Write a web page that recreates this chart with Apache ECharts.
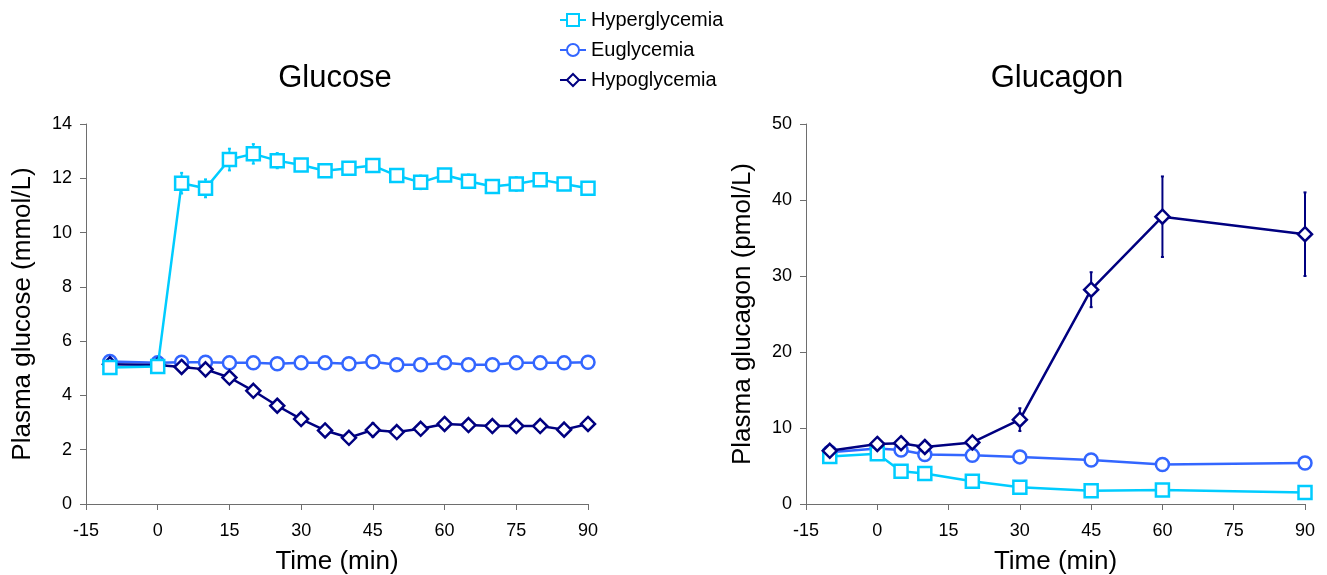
<!DOCTYPE html>
<html>
<head>
<meta charset="utf-8">
<script src="https://cdn.jsdelivr.net/npm/echarts@6/dist/echarts.min.js"></script>
<style>html,body{margin:0;padding:0;background:#fff}#c{width:1327px;height:575px}</style>
</head>
<body>
<div id="c"></div>
<script>
// ---- data ----
const seriesNames = ['Hyperglycemia', 'Euglycemia', 'Hypoglycemia'];
const glucoseTime = [-10, 0, 5, 10, 15, 20, 25, 30, 35, 40, 45, 50, 55, 60, 65, 70, 75, 80, 85, 90];
const hyperGlucose = [5.03, 5.07, 11.82, 11.63, 12.69, 12.9, 12.65, 12.49, 12.28, 12.37, 12.47, 12.1, 11.85, 12.12, 11.89, 11.7, 11.79, 11.95, 11.79, 11.63];
const hyperGlucoseErr = [0.1, 0.1, 0.38, 0.33, 0.4, 0.36, 0.28, 0.2, 0.15, 0.15, 0.2, 0.2, 0.25, 0.2, 0.25, 0.15, 0.25, 0.2, 0.15, 0.15];
const euGlucose = [5.25, 5.2, 5.22, 5.22, 5.2, 5.2, 5.17, 5.2, 5.2, 5.17, 5.24, 5.13, 5.13, 5.2, 5.13, 5.13, 5.2, 5.2, 5.2, 5.22];
const euGlucoseErr = [0.1, 0.1, 0.1, 0.1, 0.1, 0.1, 0.1, 0.1, 0.1, 0.1, 0.1, 0.1, 0.1, 0.1, 0.1, 0.1, 0.1, 0.1, 0.1, 0.1];
const hypoGlucose = [5.15, 5.12, 5.05, 4.96, 4.66, 4.17, 3.62, 3.13, 2.71, 2.44, 2.73, 2.65, 2.77, 2.95, 2.91, 2.87, 2.87, 2.87, 2.74, 2.95];
const hypoGlucoseErr = [0.1, 0.1, 0.1, 0.15, 0.15, 0.15, 0.15, 0.15, 0.15, 0.15, 0.25, 0.15, 0.15, 0.15, 0.15, 0.15, 0.15, 0.15, 0.15, 0.15];

const glucagonTime = [-10, 0, 5, 10, 20, 30, 45, 60, 90];
const hyperGlucagon = [6.25, 6.6, 4.3, 4.0, 3.0, 2.2, 1.75, 1.85, 1.5];
const hyperGlucagonErr = [0.4, 0.4, 0.4, 0.4, 0.4, 0.3, 0.3, 0.3, 0.3];
const euGlucagon = [6.8, 7.3, 7.1, 6.5, 6.4, 6.2, 5.8, 5.2, 5.4];
const euGlucagonErr = [0.4, 0.4, 0.4, 0.4, 0.4, 0.4, 0.4, 0.4, 0.4];
const hypoGlucagon = [7.0, 7.9, 8.0, 7.5, 8.1, 11.1, 28.2, 37.8, 35.5];
const hypoGlucagonErr = [0.5, 0.6, 0.6, 0.6, 0.7, 1.5, 2.3, 5.3, 5.5];

const timeTicks = { min: -15, max: 90, interval: 15 };
const glucoseTicks = { min: 0, max: 14, interval: 2 };
const glucagonTicks = { min: 0, max: 50, interval: 10 };

// ---- style ----
const colors = { Hyperglycemia: '#00CCFF', Euglycemia: '#3366FF', Hypoglycemia: '#000080' };
const symbols = { Hyperglycemia: 'rect', Euglycemia: 'circle', Hypoglycemia: 'diamond' };
const symbolSizes = { Hyperglycemia: 13, Euglycemia: 13, Hypoglycemia: 14 };
const FONT = 'Liberation Sans, Arial, sans-serif';

function pairs(xs, ys) { return xs.map((x, i) => [x, ys[i]]); }
function triples(xs, ys, es) { return xs.map((x, i) => [x, ys[i], es[i]]); }

function lineSeries(name, xs, ys, gi, z) {
  return {
    type: 'line', name: name, xAxisIndex: gi, yAxisIndex: gi,
    data: pairs(xs, ys), z: z,
    symbol: symbols[name], symbolSize: symbolSizes[name],
    lineStyle: { color: colors[name], width: 2.5 },
    itemStyle: { color: '#ffffff', borderColor: colors[name], borderWidth: 2.5 },
    emphasis: { disabled: true }, animation: false
  };
}
function errSeries(name, xs, ys, es, gi, z) {
  return {
    type: 'custom', name: name + ' err', xAxisIndex: gi, yAxisIndex: gi, z: z,
    data: triples(xs, ys, es), silent: true, animation: false,
    renderItem: function (params, api) {
      const x = api.value(0), y = api.value(1), e = api.value(2);
      const top = api.coord([x, y + e]);
      const bot = api.coord([x, y - e]);
      const w = 1.5;
      const st = { stroke: colors[name], lineWidth: 2 };
      return { type: 'group', children: [
        { type: 'line', shape: { x1: top[0], y1: top[1], x2: bot[0], y2: bot[1] }, style: st },
        { type: 'line', shape: { x1: top[0] - w, y1: top[1], x2: top[0] + w, y2: top[1] }, style: st },
        { type: 'line', shape: { x1: bot[0] - w, y1: bot[1], x2: bot[0] + w, y2: bot[1] }, style: st }
      ]};
    }
  };
}

function xAxis(gi) {
  return {
    type: 'value', gridIndex: gi, min: timeTicks.min, max: timeTicks.max, interval: timeTicks.interval,
    name: 'Time (min)', nameLocation: 'middle', nameGap: 45,
    nameTextStyle: { fontSize: 26, color: '#000', fontFamily: FONT },
    axisLine: { onZero: false, lineStyle: { color: '#6e6e6e', width: 1 } },
    axisTick: { show: true, length: 6, lineStyle: { color: '#6e6e6e' } },
    axisLabel: { fontSize: 18, color: '#000', fontFamily: FONT, margin: 18 },
    splitLine: { show: false }
  };
}
function yAxis(gi, ticks, name) {
  return {
    type: 'value', gridIndex: gi, min: ticks.min, max: ticks.max, interval: ticks.interval,
    name: name, nameLocation: 'middle', nameGap: 50,
    nameTextStyle: { fontSize: 26, color: '#000', fontFamily: FONT },
    axisLine: { show: true, onZero: false, lineStyle: { color: '#6e6e6e', width: 1 } },
    axisTick: { show: true, length: 6, lineStyle: { color: '#6e6e6e' } },
    axisLabel: { fontSize: 18, color: '#000', fontFamily: FONT, margin: 14 },
    splitLine: { show: false }
  };
}

const chart = echarts.init(document.getElementById('c'), null, { renderer: 'canvas' });
chart.setOption({
  backgroundColor: '#ffffff',
  animation: false,
  title: [
    { text: 'Glucose', left: 330, top: 58, textAlign: 'center',
      textStyle: { fontSize: 31, fontWeight: 'normal', color: '#000', fontFamily: FONT } },
    { text: 'Glucagon', left: 1052, top: 58, textAlign: 'center',
      textStyle: { fontSize: 31, fontWeight: 'normal', color: '#000', fontFamily: FONT } }
  ],
  legend: {
    data: seriesNames, orient: 'vertical', left: 554, top: 5,
    itemWidth: 26, itemHeight: 15, itemGap: 10,
    textStyle: { fontSize: 20, color: '#000', fontFamily: FONT },
    selectedMode: false
  },
  grid: [
    { left: 86, right: 739, top: 124, bottom: 71, containLabel: false, outerBoundsMode: 'none' },
    { left: 806, right: 22, top: 124, bottom: 71, containLabel: false, outerBoundsMode: 'none' }
  ],
  xAxis: [xAxis(0), xAxis(1)],
  yAxis: [
    yAxis(0, glucoseTicks, 'Plasma glucose (mmol/L)'),
    yAxis(1, glucagonTicks, 'Plasma glucagon (pmol/L)')
  ],
  series: [
    errSeries('Euglycemia', glucoseTime, euGlucose, euGlucoseErr, 0, 1),
    errSeries('Hypoglycemia', glucoseTime, hypoGlucose, hypoGlucoseErr, 0, 1),
    errSeries('Hyperglycemia', glucoseTime, hyperGlucose, hyperGlucoseErr, 0, 1),
    lineSeries('Euglycemia', glucoseTime, euGlucose, 0, 2),
    lineSeries('Hypoglycemia', glucoseTime, hypoGlucose, 0, 3),
    lineSeries('Hyperglycemia', glucoseTime, hyperGlucose, 0, 4),
    errSeries('Euglycemia', glucagonTime, euGlucagon, euGlucagonErr, 1, 1),
    errSeries('Hypoglycemia', glucagonTime, hypoGlucagon, hypoGlucagonErr, 1, 1),
    errSeries('Hyperglycemia', glucagonTime, hyperGlucagon, hyperGlucagonErr, 1, 1),
    lineSeries('Euglycemia', glucagonTime, euGlucagon, 1, 2),
    lineSeries('Hyperglycemia', glucagonTime, hyperGlucagon, 1, 3),
    lineSeries('Hypoglycemia', glucagonTime, hypoGlucagon, 1, 4)
  ]
});
</script>
</body>
</html>
